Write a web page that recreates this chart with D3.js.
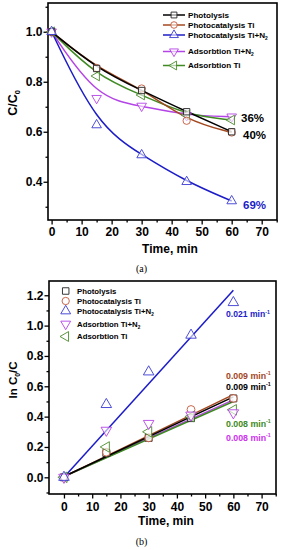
<!DOCTYPE html>
<html>
<head>
<meta charset="utf-8">
<script src="https://cdn.jsdelivr.net/npm/d3@7"></script>
<style>
  body { margin: 0; background: #fff; }
  svg { display: block; font-family: "Liberation Sans", Arial, sans-serif; font-weight: bold; }
</style>
</head>
<body>
<svg id="chart" width="283" height="550"></svg>
<script>
// sampling times (min)
const times = [0, 15, 30, 45, 60];
const seriesNames = ['Photolysis', 'Photocatalysis Ti', 'Photocatalysis Ti+N', 'Adsorbtion Ti+N', 'Adsorbtion Ti'];
const seriesSub = ['', '', '2', '2', ''];

// panel (a): C/C0
const photolysisA = [1.0, 0.853, 0.765, 0.68, 0.60];
const photoTiA = [1.0, 0.855, 0.773, 0.644, 0.597];
const photoTiN2A = [1.0, 0.627, 0.507, 0.40, 0.323];
const adsTiN2A = [1.0, 0.734, 0.703, 0.665, 0.66];
const adsTiA = [1.0, 0.823, 0.747, 0.667, 0.647];
const percentLabels = ['36%', '40%', '69%'];

// panel (b): ln C0/C and linear fits
const photolysisB = [0.0, 0.16, 0.26, 0.39, 0.52];
const photoTiB = [0.0, 0.165, 0.26, 0.447, 0.52];
const photoTiN2B = [0.0, 0.48, 0.695, 0.937, 1.152];
const adsTiN2B = [0.0, 0.31, 0.355, 0.41, 0.425];
const adsTiB = [0.0, 0.20, 0.30, 0.40, 0.445];
const fitTimes = [0, 60];
const fitPhotolysis = [0.005, 0.53];
const fitPhotoTi = [0.005, 0.545];
const fitPhotoTiN2 = [0.0, 1.233];
const fitAdsTiN2 = [0.005, 0.51];
const fitAdsTi = [0.005, 0.50];
const rateLabels = ['0.009', '0.009', '0.021', '0.008', '0.008'];

const xTicks = [0, 10, 20, 30, 40, 50, 60, 70];
const xMinor = [5, 15, 25, 35, 45, 55, 65, 75];
const yTicksA = [0.4, 0.6, 0.8, 1.0];
const yMinorA = [0.3, 0.5, 0.7, 0.9, 1.1];
const yTicksB = [0.0, 0.2, 0.4, 0.6, 0.8, 1.0, 1.2];
const yMinorB = [-0.1, 0.1, 0.3, 0.5, 0.7, 0.9, 1.1];

const colors = ['#000000', '#a3481f', '#1c1cc8', '#b444e6', '#3f8a22'];
const markerColors = ['#222222', '#c2573a', '#3a3ad2', '#b444e6', '#4a8a2a'];
const labelColors = ['#000000', '#a3481f', '#1c1cc8', '#cc33ee', '#3f8a22'];

const svg = d3.select('#chart');

function marker(g, kind, x, y, color, size) {
  const types = [d3.symbolSquare, d3.symbolCircle, d3.symbolTriangle, d3.symbolTriangle, d3.symbolTriangle];
  const rot = [0, 0, 0, 180, -90][kind];
  g.append('path')
    .attr('d', d3.symbol().type(types[kind]).size(size)())
    .attr('transform', `translate(${x},${y}) rotate(${rot})`)
    .attr('fill', '#fff')
    .attr('fill-opacity', 0.6)
    .attr('stroke', color)
    .attr('stroke-width', 0.9);
}

function frame(x, y, box, ticks, minor, yTicks, yMinor, xPad) {
  const g = svg.append('g');
  g.append('g')
    .attr('transform', `translate(0,${box.bottom})`)
    .call(d3.axisBottom(x).tickValues(minor.filter(v => v < x.domain()[1])).tickSize(2.5).tickFormat(''));
  g.append('g')
    .attr('transform', `translate(0,${box.bottom})`)
    .call(d3.axisBottom(x).tickValues(ticks).tickSize(4.5).tickPadding(xPad).tickFormat(d3.format('d')));
  g.append('g')
    .attr('transform', `translate(${box.left},0)`)
    .call(d3.axisLeft(y).tickValues(yMinor).tickSize(2.5).tickFormat(''));
  g.append('g')
    .attr('transform', `translate(${box.left},0)`)
    .call(d3.axisLeft(y).tickValues(yTicks).tickSize(4.5).tickPadding(1).tickFormat(d3.format('.1f')));
  g.selectAll('.domain').remove();
  g.selectAll('.tick line').attr('stroke-width', 1.3);
  g.selectAll('.tick text').attr('font-size', 12).attr('font-weight', 'bold').attr('fill', '#000')
    .attr('font-family', '"Liberation Sans", Arial, sans-serif');
  g.append('rect')
    .attr('x', box.left).attr('y', box.top)
    .attr('width', box.right - box.left).attr('height', box.bottom - box.top)
    .attr('fill', 'none').attr('stroke', '#000').attr('stroke-width', 1.6);
}

function subText(g, x, y, parts, opts) {
  const t = g.append('text').attr('x', x).attr('y', y)
    .attr('font-size', opts.size).attr('fill', opts.color || '#000')
    .attr('text-anchor', opts.anchor || 'start');
  if (opts.rotate) t.attr('transform', `rotate(-90,${x},${y})`);
  parts.forEach(p => {
    const s = t.append('tspan').text(p.text);
    if (p.sub) s.attr('font-size', opts.size * 0.6).attr('dy', opts.size * 0.25);
    if (p.sup) s.attr('font-size', opts.size * 0.6).attr('dy', -opts.size * 0.35);
    if (p.back) s.attr('dy', p.back);
  });
  return t;
}

// ---------- panel (a)
const boxA = { left: 48, right: 277, top: 3, bottom: 220 };
const xA = d3.scaleLinear().domain([-1.2, 75.1]).range([boxA.left, boxA.right]);
const yA = d3.scaleLinear().domain([0.247, 1.115]).range([boxA.bottom, boxA.top]);
frame(xA, yA, boxA, xTicks, xMinor, yTicksA, yMinorA, 3.2);

const dataA = [photolysisA, photoTiA, photoTiN2A, adsTiN2A, adsTiA];
const lineA = d3.line().x((d, i) => xA(times[i])).y(d => yA(d)).curve(d3.curveBasis);
const gA = svg.append('g');
[3, 4, 1, 0, 2].forEach(k => {
  gA.append('path').datum(dataA[k]).attr('d', lineA)
    .attr('fill', 'none').attr('stroke', colors[k]).attr('stroke-width', 1.5);
});
[3, 4, 1, 0, 2].forEach(k => {
  dataA[k].forEach((v, i) => marker(gA, k, xA(times[i]), yA(v), markerColors[k], k === 1 ? 42 : 40));
});

// legend (a)
const legYA = [15, 25, 35, 51.5, 65.5];
seriesNames.forEach((name, k) => {
  gA.append('line').attr('x1', 163).attr('x2', 185).attr('y1', legYA[k]).attr('y2', legYA[k])
    .attr('stroke', colors[k]).attr('stroke-width', 1.5);
  marker(gA, k, 174, legYA[k], markerColors[k], 34);
  const parts = [{ text: name }];
  if (seriesSub[k]) parts.push({ text: seriesSub[k], sub: true });
  subText(gA, 188, legYA[k] + 2.9, parts, { size: 8.1 });
});

gA.append('text').attr('x', 241).attr('y', 122).attr('font-size', 11.5).text(percentLabels[0]);
gA.append('text').attr('x', 243).attr('y', 139).attr('font-size', 11.5).text(percentLabels[1]);
gA.append('text').attr('x', 243).attr('y', 208.5).attr('font-size', 11.5).attr('fill', colors[2]).text(percentLabels[2]);

gA.append('text').attr('x', 170).attr('y', 252.5).attr('font-size', 12).attr('text-anchor', 'middle').text('Time, min');
subText(gA, 17, 103, [{ text: 'C/C' }, { text: '0', sub: true }], { size: 12.5, rotate: true, anchor: 'middle' });
svg.append('text').attr('x', 141.5).attr('y', 271.5).attr('text-anchor', 'middle')
  .attr('font-family', '"Liberation Serif", "Times New Roman", serif').attr('font-weight', 'normal')
  .attr('font-size', 10).text('(a)');

// ---------- panel (b)
const boxB = { left: 49, right: 276, top: 281, bottom: 494 };
const xB = d3.scaleLinear().domain([-5.3, 75.1]).range([boxB.left, boxB.right]);
const yB = d3.scaleLinear().domain([-0.11, 1.294]).range([boxB.bottom, boxB.top]);
frame(xB, yB, boxB, xTicks, xMinor, yTicksB, yMinorB, 4.2);

const dataB = [photolysisB, photoTiB, photoTiN2B, adsTiN2B, adsTiB];
const fits = [fitPhotolysis, fitPhotoTi, fitPhotoTiN2, fitAdsTiN2, fitAdsTi];
const lineB = d3.line().x((d, i) => xB(fitTimes[i])).y(d => yB(d));
const gB = svg.append('g');
[3, 4, 1, 0, 2].forEach(k => {
  gB.append('path').datum(fits[k]).attr('d', lineB)
    .attr('fill', 'none').attr('stroke', colors[k]).attr('stroke-width', 1.5);
});
[0, 1, 4, 3, 2].forEach(k => {
  dataB[k].forEach((v, i) => marker(gB, k, xB(times[i]), yB(v), markerColors[k], 48));
});

// legend (b)
const legYB = [291, 301, 311, 324, 336.5];
seriesNames.forEach((name, k) => {
  marker(gB, k, 65.7, legYB[k], markerColors[k], 42);
  const parts = [{ text: name }];
  if (seriesSub[k]) parts.push({ text: seriesSub[k], sub: true });
  subText(gB, 77, legYB[k] + 2.8, parts, { size: 7.8 });
});

// rate constants
const rateY = [389.5, 378.5, 317, 440.5, 426.5];
rateLabels.forEach((r, k) => {
  subText(gB, 226, rateY[k], [{ text: r + ' min' }, { text: '-1', sup: true }],
    { size: k === 2 ? 8.6 : 8.8, color: labelColors[k] });
});

gB.append('text').attr('x', 166).attr('y', 525).attr('font-size', 12).attr('text-anchor', 'middle').text('Time, min');
subText(gB, 17, 380, [{ text: 'ln C' }, { text: '0', sub: true }, { text: '/C', back: -3 }], { size: 11.5, rotate: true, anchor: 'middle' });
svg.append('text').attr('x', 141.5).attr('y', 545).attr('text-anchor', 'middle')
  .attr('font-family', '"Liberation Serif", "Times New Roman", serif').attr('font-weight', 'normal')
  .attr('font-size', 10).text('(b)');
</script>
</body>
</html>
